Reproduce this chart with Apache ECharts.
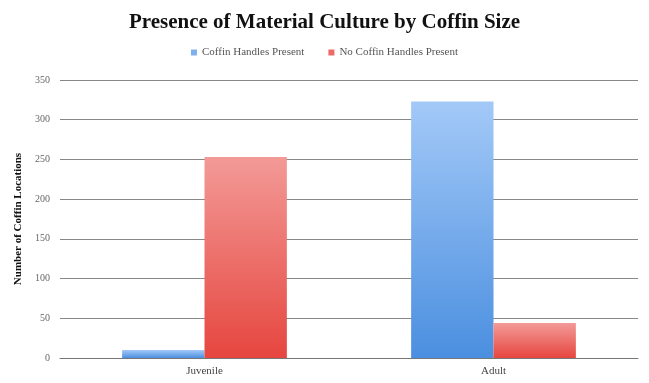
<!DOCTYPE html>
<html><head><meta charset="utf-8">
<script src="https://cdn.jsdelivr.net/npm/echarts@6/dist/echarts.min.js"></script>
<style>html,body{margin:0;padding:0;background:#fff}#c{width:649px;height:383px}</style>
</head><body><div id="c"></div>
<script>
const categories = ['Juvenile', 'Adult'];
const handlesPresent = [10, 323];
const noHandlesPresent = [253, 44];
const seriesNames = ['Coffin Handles Present', 'No Coffin Handles Present'];
const yTicks = [0, 50, 100, 150, 200, 250, 300, 350];

const font = 'Liberation Serif';
const chart = echarts.init(document.getElementById('c'));
const grad = (top, bottom) => new echarts.graphic.LinearGradient(0, 0, 0, 1, [
  {offset: 0, color: top}, {offset: 1, color: bottom}]);
chart.setOption({
  animation: false,
  textStyle: {fontFamily: font},
  title: {
    text: 'Presence of Material Culture by Coffin Size',
    left: 'center', top: 7,
    textStyle: {fontFamily: font, fontSize: 21, fontWeight: 'bold', color: '#111'}
  },
  legend: {
    top: 42, left: 'center', itemWidth: 6, itemHeight: 6, itemGap: 24,
    textStyle: {fontFamily: font, fontSize: 11, color: '#555'},
    data: seriesNames.map((n, i) => ({name: n, icon: 'rect',
      itemStyle: {color: i === 0 ? '#7fb0ee' : '#ee6a66'}}))
  },
  grid: {left: 60, right: 11, top: 80, bottom: 25},
  xAxis: {
    type: 'category', data: categories,
    axisLine: {lineStyle: {color: '#777'}}, axisTick: {show: false},
    axisLabel: {fontFamily: font, fontSize: 11, color: '#444', margin: 8}
  },
  yAxis: {
    type: 'value', min: yTicks[0], max: yTicks[yTicks.length - 1], interval: 50,
    name: 'Number of Coffin Locations', nameLocation: 'middle', nameGap: 36,
    nameTextStyle: {fontFamily: font, fontSize: 11, fontWeight: 'bold', color: '#111'},
    axisLine: {show: false}, axisTick: {show: false},
    axisLabel: {fontFamily: font, fontSize: 10, color: '#666', margin: 10},
    splitLine: {lineStyle: {color: '#888', width: 1}}
  },
  series: [
    {name: seriesNames[0], type: 'bar', data: handlesPresent, barGap: '0%', barCategoryGap: '43%',
     itemStyle: {color: grad('#a3c9f7', '#4b8fe0')}},
    {name: seriesNames[1], type: 'bar', data: noHandlesPresent,
     itemStyle: {color: grad('#f39a97', '#e6463f')}}
  ]
});
</script></body></html>
